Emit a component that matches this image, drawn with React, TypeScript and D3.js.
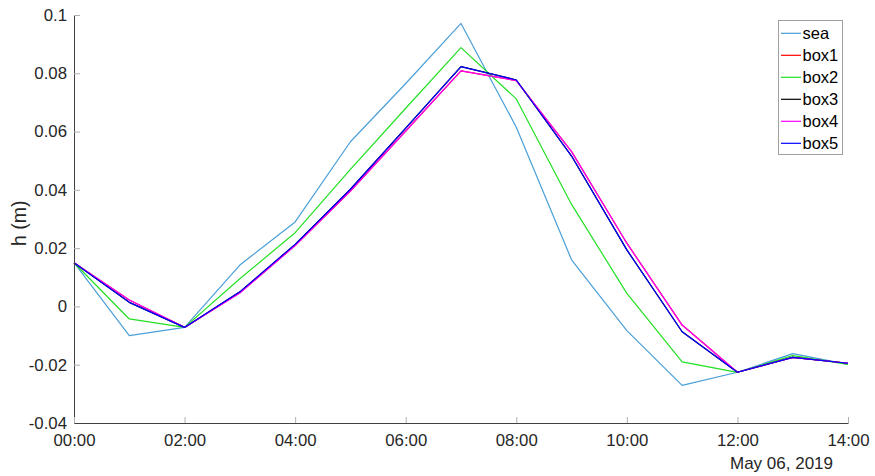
import React, { useEffect, useRef } from 'react';
import * as d3 from 'd3';

const HOURS = [0, 1, 2, 3, 4, 5, 6, 7, 8, 9, 10, 11, 12, 13, 14];
const X_TICKS = [0, 2, 4, 6, 8, 10, 12, 14];
const Y_TICKS = [-0.04, -0.02, 0, 0.02, 0.04, 0.06, 0.08, 0.1];

const SEA = [0.015, -0.010, -0.0072, 0.0142, 0.029, 0.0565, 0.0765, 0.0971, 0.0615, 0.016, -0.0083, -0.0271, -0.0226, -0.0162, -0.0199];
const BOX1 = [0.015, 0.0022, -0.0072, 0.0047, 0.0209, 0.0396, 0.0602, 0.0808, 0.0775, 0.0531, 0.0217, -0.0064, -0.0226, -0.0175, -0.0195];
const BOX2 = [0.015, -0.0043, -0.0072, 0.0095, 0.0253, 0.047, 0.068, 0.0888, 0.0712, 0.035, 0.0045, -0.019, -0.0226, -0.0169, -0.0199];
const BOX3 = [0.015, 0.0014, -0.0072, 0.005, 0.0213, 0.0402, 0.0612, 0.0823, 0.0777, 0.0516, 0.0194, -0.0087, -0.0226, -0.0175, -0.0195];
const BOX4 = [0.015, 0.0022, -0.0072, 0.0046, 0.0209, 0.0396, 0.0602, 0.0808, 0.0775, 0.0531, 0.0217, -0.0064, -0.0226, -0.0175, -0.0195];
const BOX5 = [0.015, 0.0014, -0.0072, 0.005, 0.0213, 0.0402, 0.0612, 0.0823, 0.0777, 0.0516, 0.0194, -0.0087, -0.0226, -0.0175, -0.0195];

const SERIES = [
  { name: 'sea', values: SEA, color: '#4a9fd8' },
  { name: 'box1', values: BOX1, color: '#ff0000' },
  { name: 'box2', values: BOX2, color: '#22e022' },
  { name: 'box3', values: BOX3, color: '#000000' },
  { name: 'box4', values: BOX4, color: '#ff00ff' },
  { name: 'box5', values: BOX5, color: '#0000ff' },
];

const FONT = "'Liberation Sans', Arial, sans-serif";

const App: React.FC = () => {
  const svgRef = useRef<SVGSVGElement>(null);

  useEffect(() => {
    if (!svgRef.current) return;
    const svg = d3.select(svgRef.current);
    svg.selectAll('*').remove();

    const x = d3.scaleLinear().domain([0, 14]).range([74, 848]);
    const y = d3.scaleLinear().domain([-0.04, 0.1]).range([423, 15]);

    const axisColor = '#404040';
    const textColor = '#262626';

    // lines
    const line = d3.line<number>()
      .x((d, i) => x(HOURS[i]))
      .y(d => y(d));

    SERIES.forEach(s => {
      svg.append('path')
        .attr('d', line(s.values)!)
        .attr('fill', 'none')
        .attr('stroke', s.color)
        .attr('stroke-width', 1.2)
        .attr('stroke-linejoin', 'round');
    });

    // axes
    const fmtY = (v: number) => {
      if (Math.abs(v) < 1e-9) return '0';
      return String(+v.toFixed(2));
    };
    const gy = svg.append('g').attr('transform', `translate(${x(0)},0)`)
      .call(d3.axisLeft(y).tickValues(Y_TICKS).tickSizeInner(-6).tickSizeOuter(0).tickPadding(7).tickFormat(d => fmtY(+d)));
    const pad = (n: number) => (n < 10 ? '0' : '') + n;
    const gx = svg.append('g').attr('transform', `translate(0,${y(-0.04)})`)
      .call(d3.axisBottom(x).tickValues(X_TICKS).tickSizeInner(-6).tickSizeOuter(0).tickPadding(11).tickFormat(d => `${pad(+d)}:00`));

    [gy, gx].forEach(g => {
      g.select('.domain').attr('stroke', axisColor).attr('stroke-width', 1);
      g.selectAll('.tick line').attr('stroke', '#b0b0b0');
      g.selectAll('.tick text').attr('fill', textColor).style('font-size', '16.8px').style('font-family', FONT);
    });

    svg.append('text')
      .attr('x', 833)
      .attr('y', 469)
      .attr('text-anchor', 'end')
      .attr('fill', textColor)
      .style('font-size', '17px')
      .style('font-family', FONT)
      .text('May 06, 2019');

    svg.append('text')
      .attr('transform', `translate(26,${y(0.0285)}) rotate(-90)`)
      .attr('text-anchor', 'middle')
      .attr('fill', textColor)
      .style('font-size', '19.5px')
      .style('font-family', FONT)
      .text('h (m)');

    // legend
    const lg = svg.append('g');
    lg.append('rect')
      .attr('x', 778.5).attr('y', 20.5).attr('width', 64).attr('height', 134)
      .attr('fill', '#fff').attr('stroke', '#a0a0a0').attr('stroke-width', 1);
    SERIES.forEach((s, i) => {
      const ry = 33.3 + i * 22;
      lg.append('line')
        .attr('x1', 781).attr('x2', 801).attr('y1', ry).attr('y2', ry)
        .attr('stroke', s.color).attr('stroke-width', 1.2);
      lg.append('text')
        .attr('x', 802.5).attr('y', ry)
        .attr('dy', '0.35em')
        .attr('fill', '#000')
        .style('font-size', '16.5px')
        .style('font-family', FONT)
        .text(s.name);
    });
  }, []);

  return (
    <div style={{ position: 'absolute', left: 0, top: 0 }}>
      <svg ref={svgRef} width={875} height={476} viewBox="0 0 875 476" style={{ display: 'block', background: '#fff' }} />
    </div>
  );
};

export default App;
